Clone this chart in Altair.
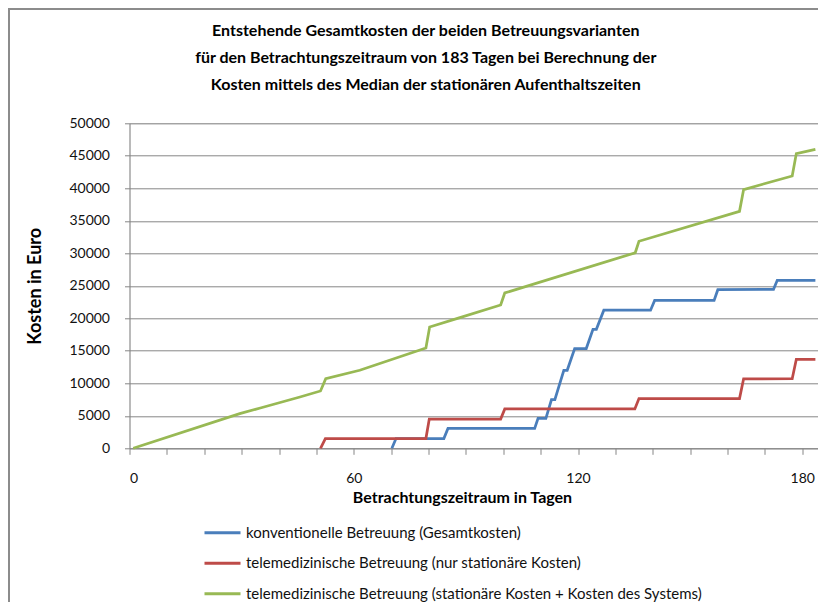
import altair as alt
import pandas as pd

# ---------------- data ----------------
title_lines = [
    "Entstehende Gesamtkosten der beiden Betreuungsvarianten",
    "für den Betrachtungszeitraum von 183 Tagen bei Berechnung der",
    "Kosten mittels des Median der stationären Aufenthaltszeiten",
]
series_names = [
    "konventionelle Betreuung (Gesamtkosten)",
    "telemedizinische Betreuung (nur stationäre Kosten)",
    "telemedizinische Betreuung (stationäre Kosten + Kosten des Systems)",
]
series_colors = ["#4A7EBB", "#BE4B48", "#98B954"]

blue_days = [70.2, 71.3, 84.1, 85.2, 108.4, 109.3, 111.4, 112.9, 113.8, 116.2,
             117.1, 119.1, 122.2, 124.0, 124.9, 126.9, 139.4, 140.5, 156.4,
             157.4, 172.3, 173.3, 183.5]
blue_cost = [0, 1500, 1500, 3050, 3050, 4600, 4600, 7500, 7500, 12000,
             12000, 15350, 15350, 18300, 18300, 21250, 21250, 22750, 22750,
             24400, 24450, 25850, 25850]

red_days = [51.1, 52.4, 79.3, 80.2, 99.3, 100.4, 135.2, 136.3, 163.2, 164.3,
            177.3, 178.4, 183.5]
red_cost = [0, 1500, 1500, 4500, 4500, 6050, 6050, 7650, 7650, 10700,
            10700, 13700, 13700]

green_days = [1.0, 29.5, 35.0, 45.6, 51.1, 52.5, 61.6, 79.3, 80.3, 88.4, 99.3,
              100.4, 135.3, 136.3, 163.2, 164.3, 177.3, 178.4, 183.5]
green_cost = [0, 5340, 6200, 7900, 8820, 10720, 12000, 15430, 18660, 20100,
              22050, 23900, 30080, 31850, 36460, 39800, 41900, 45340, 46000]

x_tick_values = [0, 10, 20, 30, 40, 50, 60, 70, 80, 90, 100, 110, 120, 130,
                 140, 150, 160, 170, 180]
x_label_values = [0, 60, 120, 180]
y_tick_values = [0, 5000, 10000, 15000, 20000, 25000, 30000, 35000, 40000,
                 45000, 50000]

x_title = "Betrachtungszeitraum in Tagen"
y_title = "Kosten in Euro"

# ---------------- table ----------------
rows = []
for name, days, costs in zip(series_names,
                             [blue_days, red_days, green_days],
                             [blue_cost, red_cost, green_cost]):
    for d, c in zip(days, costs):
        rows.append({"series": name, "day": d, "cost": c})
df = pd.DataFrame(rows)

# ---------------- layout ----------------
W, H = 688.5, 325
PAD_L, PAD_T = 121.5, 115.3
TOTAL_W, TOTAL_H = 810, 594
GRAY = "#868686"
FONT = "Lato"

label_expr = ("indexof([" + ",".join(str(v) for v in x_label_values)
              + "], datum.value) >= 0 ? datum.label : ''")

lines = alt.Chart(df).mark_line(strokeWidth=2.75).encode(
    x=alt.X("day:Q",
            scale=alt.Scale(domain=[0, 184.2], nice=False, zero=False),
            axis=alt.Axis(values=x_tick_values, labelExpr=label_expr,
                          grid=False, domainColor=GRAY, tickColor=GRAY,
                          tickSize=6, labelPadding=17, labelFont=FONT,
                          labelFontSize=14, labelColor="#111",
                          title=x_title, titleFont=FONT, titleFontSize=16,
                          titleFontWeight="bold", titleColor="#000",
                          titleX=332.5, titleY=49, titleBaseline="middle",
                          titleAlign="center")),
    y=alt.Y("cost:Q",
            scale=alt.Scale(domain=[0, 50000], nice=False),
            axis=alt.Axis(values=y_tick_values, format="d", grid=True,
                          gridColor=GRAY, gridWidth=1, domainColor=GRAY,
                          tickColor=GRAY, tickSize=5, labelPadding=15,
                          labelFont=FONT, labelFontSize=14, labelColor="#111",
                          title=y_title, titleFont=FONT, titleFontSize=18,
                          titleFontWeight="bold", titleColor="#000",
                          titleAngle=270, titleX=-94.5, titleY=H / 2,
                          titleBaseline="middle", titleAlign="center")),
    color=alt.Color("series:N",
                    scale=alt.Scale(domain=series_names, range=series_colors),
                    legend=alt.Legend(orient="none", legendX=82.5,
                                      legendY=399, title=None, padding=0,
                                      symbolType="M-2,0H2", symbolSize=324,
                                      symbolStrokeWidth=3, labelFont=FONT,
                                      labelFontSize=15, labelColor="#111",
                                      rowPadding=11.5, labelOffset=13,
                                      labelLimit=0)),
)

frame_top = alt.Chart(alt.Data(values=[{"k": 1}])).mark_rule(
    color="#8c8c8c", strokeWidth=2).encode(
    x=alt.value(-PAD_L), x2=alt.value(TOTAL_W - PAD_L), y=alt.value(-PAD_T + 1))
frame_left = alt.Chart(alt.Data(values=[{"k": 1}])).mark_rule(
    color="#8c8c8c", strokeWidth=2).encode(
    x=alt.value(-PAD_L + 1), y=alt.value(-PAD_T), y2=alt.value(TOTAL_H - PAD_T))

chart = alt.layer(frame_top, frame_left, lines).properties(
    width=W, height=H,
    title=alt.TitleParams(text=title_lines, font=FONT, fontSize=16,
                          fontWeight="bold", lineHeight=27, anchor="middle",
                          frame="group", dx=-48, offset=-86, color="#000"),
    autosize=alt.AutoSizeParams(type="none"),
    padding={"left": PAD_L, "top": PAD_T, "right": TOTAL_W - PAD_L - W,
             "bottom": TOTAL_H - PAD_T - H},
).configure_view(stroke=None).configure(background="white")

chart.save("out.html", embed_options={"renderer": "svg", "actions": False})
